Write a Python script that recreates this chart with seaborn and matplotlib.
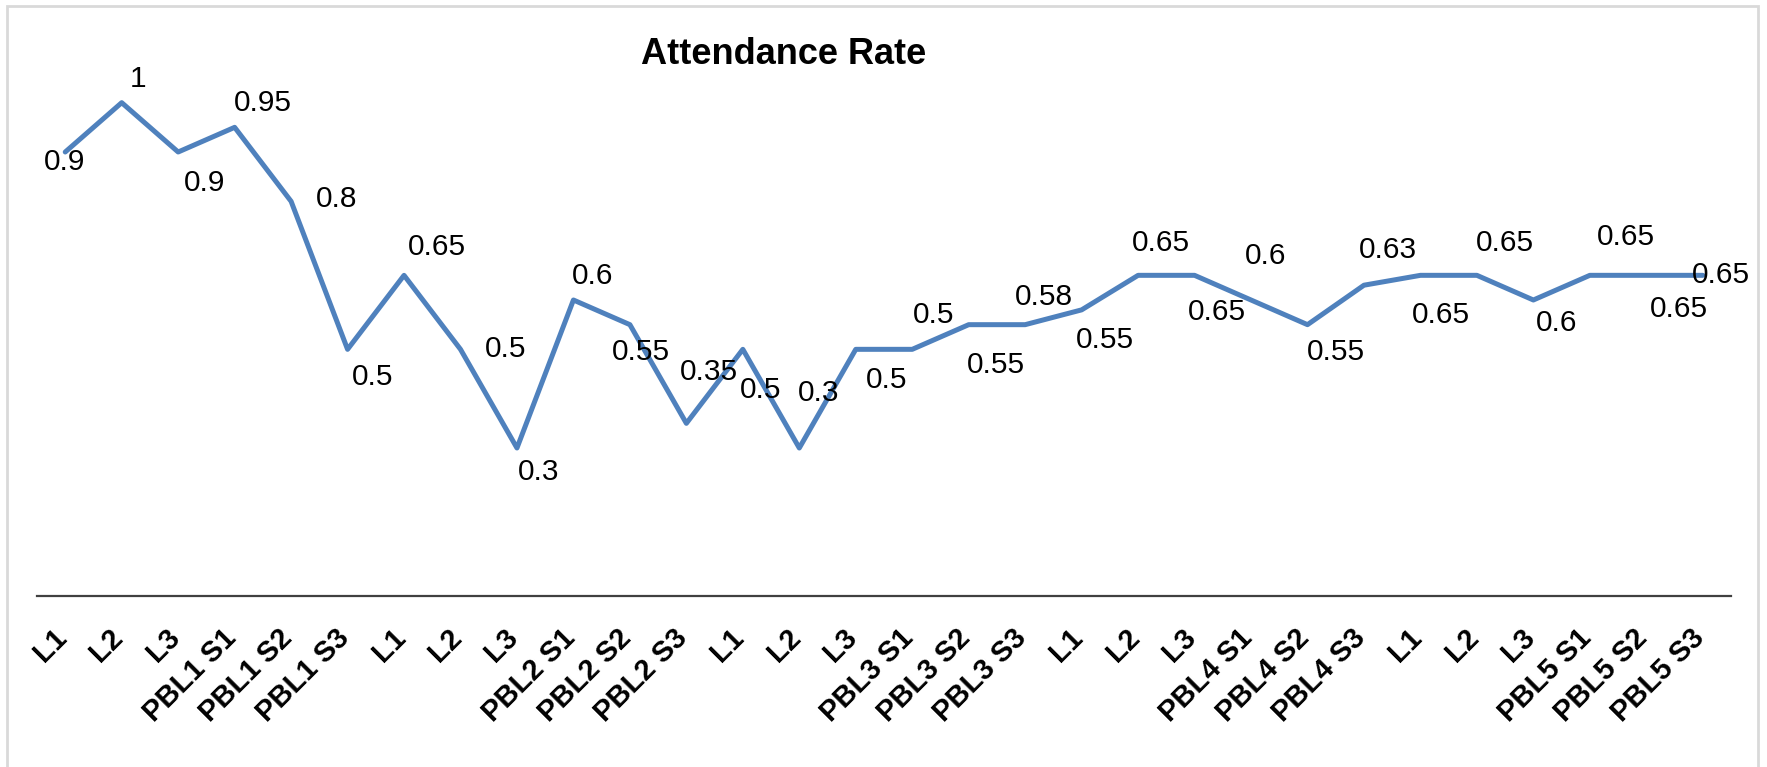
import matplotlib
matplotlib.use("Agg")
import matplotlib.pyplot as plt
import matplotlib.transforms as mtransforms
import seaborn as sns
import numpy as np
from matplotlib.patches import Rectangle

# ---- data ----
categories = ["L1", "L2", "L3", "PBL1 S1", "PBL1 S2", "PBL1 S3",
              "L1", "L2", "L3", "PBL2 S1", "PBL2 S2", "PBL2 S3",
              "L1", "L2", "L3", "PBL3 S1", "PBL3 S2", "PBL3 S3",
              "L1", "L2", "L3", "PBL4 S1", "PBL4 S2", "PBL4 S3",
              "L1", "L2", "L3", "PBL5 S1", "PBL5 S2", "PBL5 S3"]
attendance = [0.9, 1, 0.9, 0.95, 0.8, 0.5,
              0.65, 0.5, 0.3, 0.6, 0.55, 0.35,
              0.5, 0.3, 0.5, 0.5, 0.55, 0.55,
              0.58, 0.65, 0.65, 0.6, 0.55, 0.63,
              0.65, 0.65, 0.6, 0.65, 0.65, 0.65]
# data-label texts as printed on the original chart
point_labels = ["0.9", "1", "0.9", "0.95", "0.8", "0.5",
                "0.65", "0.5", "0.3", "0.6", "0.55", "0.35",
                "0.5", "0.3", "0.5", "0.5", "0.55", "0.58",
                "0.55", "0.65", "0.65", "0.6", "0.55", "0.63",
                "0.65", "0.65", "0.6", "0.65", "0.65", "0.65"]
title = "Attendance Rate"

# label placement offsets (pixels: right, down)
label_offsets = [(-1, 10), (16, -24), (26, 31), (28, -24), (45, -2), (25, 28),
                 (33, -28), (45, 0), (22, 24), (19, -24), (11, 27), (23, -51),
                 (18, 41), (19, -55), (31, 31), (21, -34), (27, 40), (19, -28),
                 (23, 30), (23, -32), (22, 37), (15, -44), (28, 27), (24, -35),
                 (21, 40), (28, -32), (23, 23), (36, -38), (33, 34), (18, 0)]

sns.set_style("white")
plt.rcParams["font.family"] = ["Liberation Sans", "DejaVu Sans"]

W, H = 1767, 767
fig = plt.figure(figsize=(W / 100, H / 100), dpi=100)
left, right = 37 / W, 1731 / W
bottom, top = 1 - 596 / H, 1 - 4 / H
ax = fig.add_axes([left, bottom, right - left, top - bottom])

idx = np.arange(len(categories))
sns.lineplot(x=idx, y=attendance, ax=ax, color="#4F81BD", linewidth=3.6,
             sort=False, legend=False)

ax.set_xlim(-0.5, len(categories) - 0.5)
ax.set_ylim(0, 1.2)
ax.set_yticks([])
ax.set_xticks(idx)
ax.set_xticklabels(categories, rotation=45, ha="right", va="center",
                   rotation_mode="anchor",
                   fontsize=21, fontweight="bold", color="black")
ax.tick_params(axis="x", length=0, pad=27)
shift = mtransforms.ScaledTranslation(-3 / 100, 0, fig.dpi_scale_trans)
for lab in ax.get_xticklabels():
    lab.set_transform(lab.get_transform() + shift)
ax.set_xlabel("")
ax.set_ylabel("")
for s in ["top", "right", "left"]:
    ax.spines[s].set_visible(False)
ax.spines["bottom"].set_color("#404040")
ax.spines["bottom"].set_linewidth(1.6)

for i, v in enumerate(attendance):
    dx, dy = label_offsets[i]
    ax.annotate(point_labels[i], xy=(i, v), xytext=(dx, -dy),
                textcoords="offset pixels",
                ha="center", va="center", fontsize=21.5, color="black")

fig.text(784 / W, 1 - 54 / H, title, ha="center", va="center",
         fontsize=26, fontweight="bold", color="black")

fig.patches.append(Rectangle((7 / W, -0.01), (1758 - 7) / W, 1.01 - 6 / H,
                             transform=fig.transFigure, fill=False,
                             edgecolor="#d9d9d9", linewidth=2))

fig.savefig("out.png", dpi=100)
